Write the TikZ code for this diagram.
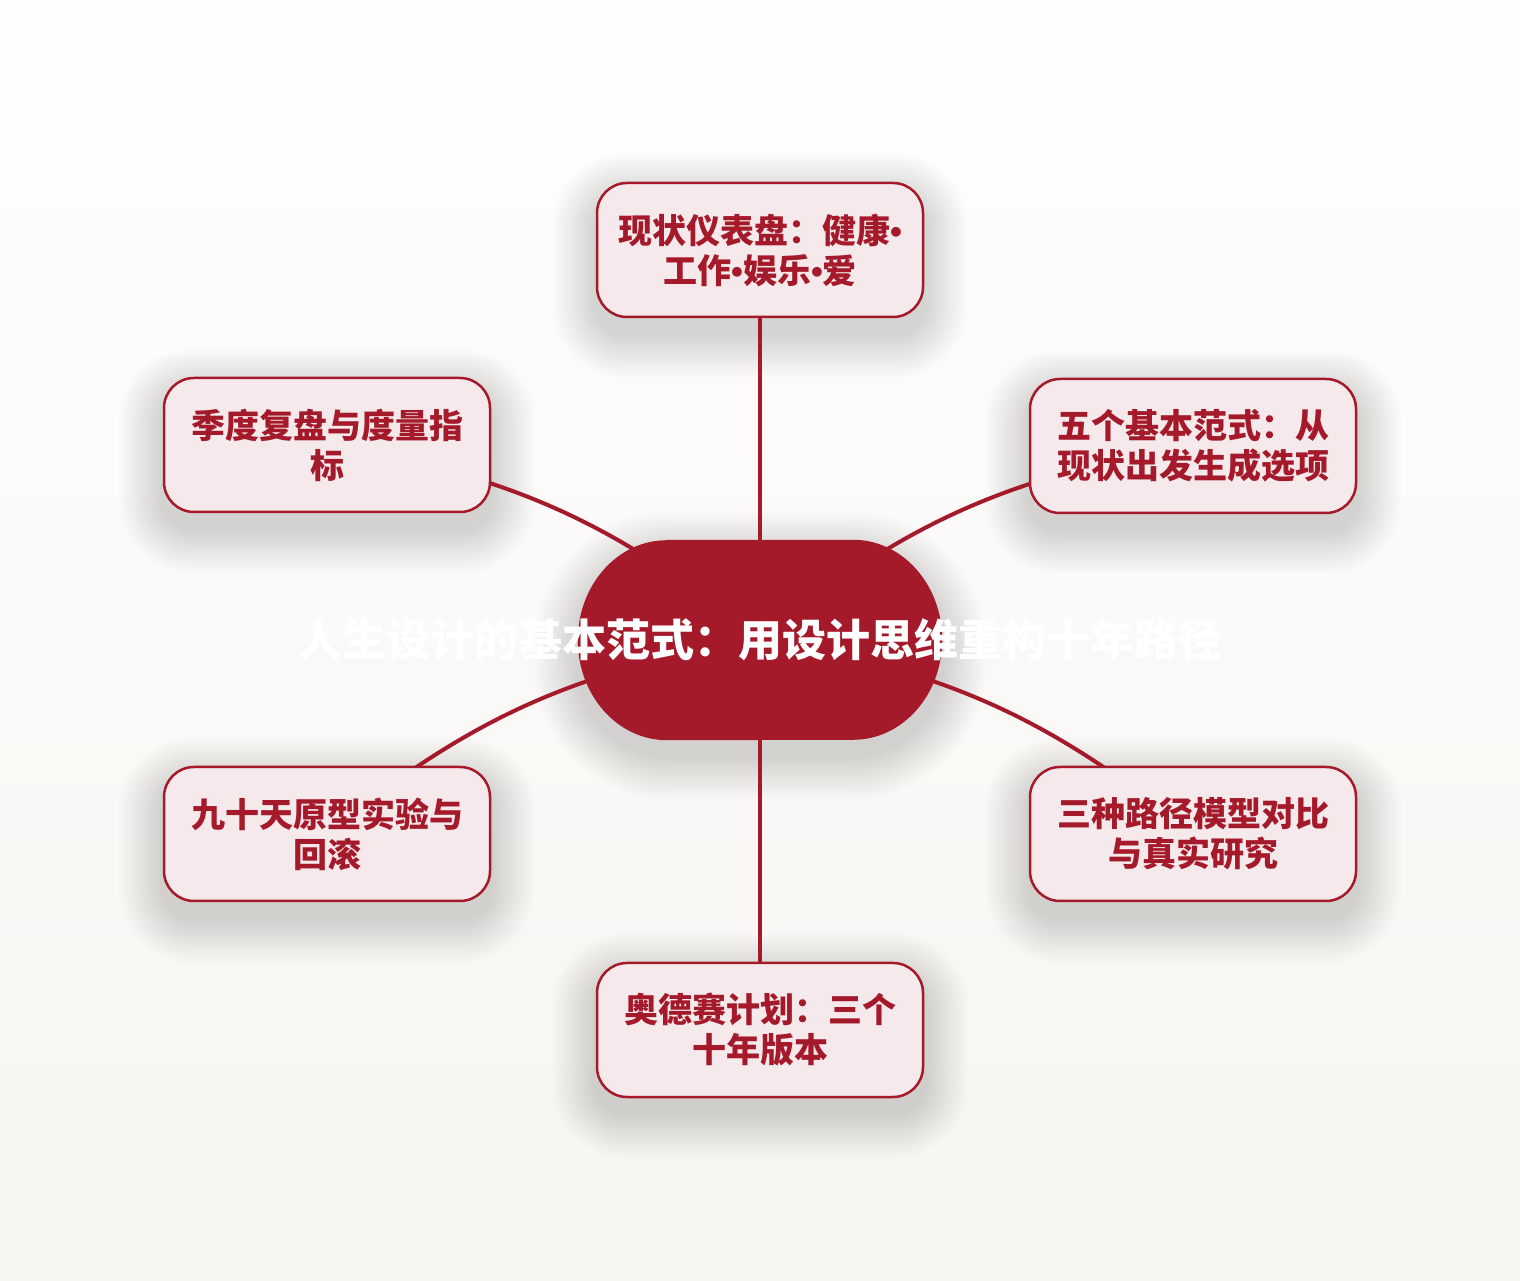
\documentclass[tikz,border=0pt]{standalone}
\usepackage{fontspec}
\newfontfamily\cjk{Noto Sans CJK SC}
\newfontfamily\latin{Liberation Sans}
\newcommand{\dotsep}{{\latin\bfseries •}}
\usetikzlibrary{backgrounds,calc}
\definecolor{cred}{HTML}{A51A2A}
\definecolor{cfill}{HTML}{F5E9EC}
\definecolor{bgtop}{HTML}{FEFEFE}
\definecolor{bgbot}{HTML}{F7F5F1}
\begin{document}
\begin{tikzpicture}[x=1pt,y=1pt,
  leaf/.style={draw=cred, line width=2.5pt, fill=cfill, rounded corners=30pt,
    minimum width=326pt, minimum height=134pt, align=center, text=cred,
    font=\cjk\bfseries\fontsize{34}{40}\selectfont, inner sep=0pt},
  conn/.style={draw=cred, line width=4pt},
  hub/.style={minimum width=364pt, minimum height=200pt, inner sep=0pt},
  hubtext/.style={text=white, font=\cjk\bfseries\fontsize{44}{50}\selectfont, inner sep=0pt},
  shadowfill/.style={fill=black, opacity=0.009}]
\useasboundingbox (0,0) rectangle (1520,1280);
\begin{scope}[on background layer]
  \shade[top color=bgtop, bottom color=bgbot] (0,0) rectangle (1520,1280);
\end{scope}

% hub
\node[hub] (c) at (760,640) {};
\fill[cred] ($(c.north west)+(89,0)$) -- ($(c.north east)+(-89,0)$)
  arc[start angle=90, end angle=0, x radius=89, y radius=100]
  arc[start angle=0, end angle=-90, x radius=89, y radius=100]
  -- ($(c.south west)+(89,0)$)
  arc[start angle=270, end angle=180, x radius=89, y radius=100]
  arc[start angle=180, end angle=90, x radius=89, y radius=100] -- cycle;
\node[hubtext] (title) at (760,640) {人生设计的基本范式：用设计思维重构十年路径};

% leaves
\node[leaf] (top) at (760,1030) {现状仪表盘：健康\dotsep\\工作\dotsep 娱乐\dotsep 爱};
\node[leaf] (ul)  at (327,835)  {季度复盘与度量指\\标};
\node[leaf] (ur)  at (1193,834) {五个基本范式：从\\现状出发生成选项};
\node[leaf] (ll)  at (327,446)  {九十天原型实验与\\回滚};
\node[leaf] (lr)  at (1193,446) {三种路径模型对比\\与真实研究};
\node[leaf] (bot) at (760,250)  {奥德赛计划：三个\\十年版本};

\begin{scope}[on background layer]
  % shadows
  \foreach \n in {top,ul,ur,ll,lr,bot}{
    \foreach \i in {1,...,20}{
      \pgfmathsetmacro\rr{30+2.2*\i}
      \fill[shadowfill, rounded corners=\rr pt]
        ($(\n.south west)+(-2.2*\i,-2.2*\i-16)$) rectangle ($(\n.north east)+(2.2*\i,2.2*\i-16)$);
    }
  }
  \foreach \i in {1,...,20}{
    \pgfmathsetmacro\rr{92+2.2*\i}
    \fill[shadowfill, rounded corners=\rr pt]
      ($(c.south west)+(-2.2*\i,-2.2*\i-16)$) rectangle ($(c.north east)+(2.2*\i,2.2*\i-16)$);
  }
  % connectors
  \draw[conn] (c.center) -- (top.center);
  \draw[conn] (c.center) -- (bot.center);
  \draw[conn] (c.center) to[bend right=15] (ul.center);
  \draw[conn] (c.center) to[bend left=15] (ur.center);
  \draw[conn] (c.center) to[bend right=15] (ll.center);
  \draw[conn] (c.center) to[bend left=15] (lr.center);
\end{scope}
\end{tikzpicture}
\end{document}
